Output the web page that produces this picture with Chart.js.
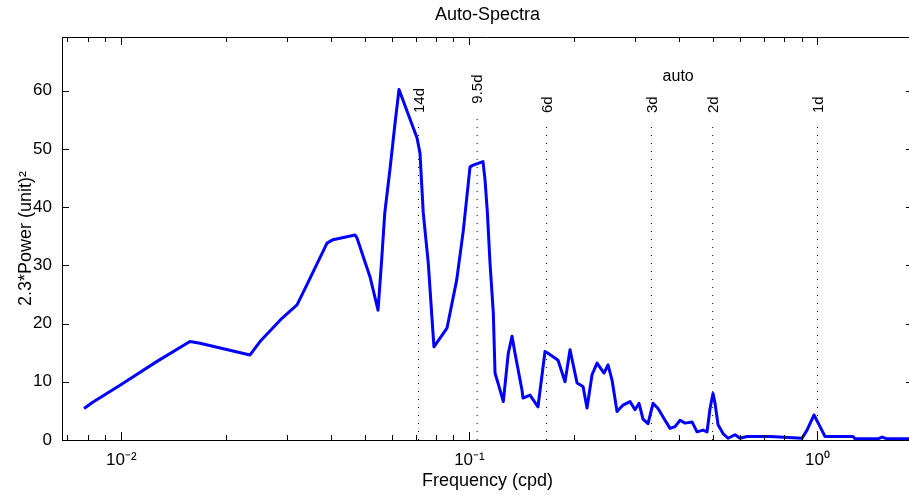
<!DOCTYPE html>
<html><head><meta charset="utf-8">
<script src="https://cdn.jsdelivr.net/npm/chart.js@4.4.1/dist/chart.umd.min.js"></script>
<style>
html,body{margin:0;padding:0;background:#fff;overflow:hidden;}
#wrap{width:909px;height:495px;overflow:hidden;position:relative;}
canvas{display:block;}
</style>
</head><body>
<div id="wrap"><canvas id="c" width="913" height="495"></canvas></div>
<script>
// ---- data ----
const freq = [0.00781,0.00823,0.00991,0.01266,0.01574,0.01682,0.02342,0.02502,0.02893,0.03196,0.03370,0.03898,0.04055,0.04691,0.04753,0.05181,0.05463,0.05597,0.05712,0.05912,0.06111,0.06276,0.07068,0.07210,0.07368,0.07616,0.07789,0.07908,0.08620,0.09194,0.09605,0.10040,0.10261,0.10941,0.11086,0.11264,0.11460,0.11713,0.11846,0.12242,0.12513,0.12932,0.13255,0.13521,0.14158,0.14256,0.14928,0.15741,0.16490,0.16824,0.17975,0.18825,0.19458,0.20381,0.21205,0.21774,0.22508,0.23266,0.24366,0.25021,0.25693,0.26555,0.27633,0.28937,0.29912,0.30715,0.31540,0.32598,0.33695,0.34834,0.36484,0.37709,0.38976,0.40294,0.41647,0.43621,0.45083,0.46914,0.48173,0.49138,0.50119,0.50785,0.51815,0.53550,0.55348,0.57970,0.59921,0.62764,0.73063,0.90313,0.93348,0.97769,1.0174,1.0515,1.2656,1.2823,1.4933,1.5334,1.5849,1.882];
const power = [5.4,6.4,9.4,13.5,16.9,16.6,14.6,16.9,20.9,23.2,26.0,33.8,34.4,35.2,34.7,28.0,22.3,31.0,39.0,46.5,54.3,60.2,51.9,49.3,39.0,30.4,21.8,16.0,19.2,27.5,36.0,46.9,47.2,47.8,44.7,39.0,30.4,21.8,11.5,8.6,6.6,14.9,17.8,14.9,8.6,7.2,7.7,5.7,15.2,14.9,13.7,10.0,15.5,9.8,9.2,5.5,11.2,13.2,11.5,12.9,10.3,4.9,6.0,6.6,5.2,6.3,3.6,2.8,6.3,5.4,3.4,2.0,2.3,3.4,2.9,3.1,1.4,1.7,1.4,5.4,8.0,6.3,2.6,1.1,0.3,0.9,0.3,0.6,0.6,0.3,1.7,4.3,2.3,0.6,0.6,0.2,0.2,0.5,0.2,0.2];

const periodFreq   = [0.07143, 0.10526, 0.16667, 0.33333, 0.5, 1.0];
const periodLabels = ['14d', '9.5d', '6d', '3d', '2d', '1d'];
const periodTop    = [54.6, 56.2, 54.6, 54.6, 54.6, 54.6];
const autoLabel = {text:'auto', x:0.398, y:62.4};

const xTicks = [0.007,0.008,0.009,0.01,0.02,0.03,0.04,0.05,0.06,0.07,0.08,0.09,0.1,0.2,0.3,0.4,0.5,0.6,0.7,0.8,0.9,1];
const xMajor = [0.01, 0.1, 1];
const xMajorLabels = ['10\u207B\u00B2', '10\u207B\u00B9', '10\u2070'];
const yTicks = [0,10,20,30,40,50,60];

const FONT = 'Liberation Sans, Arial, Helvetica, sans-serif';

const framePlugin = {
  id:'frame',
  afterDatasetsDraw(chart){
    const {ctx, scales:{x,y}} = chart;
    ctx.save();
    ctx.fillStyle = '#000';
    ctx.font = '15px ' + FONT;
    ctx.textAlign = 'left';
    ctx.textBaseline = 'middle';
    periodFreq.forEach((f,i)=>{
      const px = x.getPixelForValue(f) + 1;
      const py = y.getPixelForValue(periodTop[i]) - 9;
      ctx.save();
      ctx.translate(px, py);
      ctx.rotate(-Math.PI/2);
      ctx.fillText(periodLabels[i], 0, 0);
      ctx.restore();
    });
    ctx.font = '16px ' + FONT;
    ctx.textAlign = 'center';
    ctx.fillText(autoLabel.text, x.getPixelForValue(autoLabel.x), y.getPixelForValue(autoLabel.y));
    ctx.restore();
  },
  afterDraw(chart){
    const {ctx, chartArea:a, scales:{x,y}} = chart;
    ctx.save();
    ctx.strokeStyle = '#000';
    ctx.lineWidth = 1;
    ctx.beginPath();
    ctx.moveTo(a.left, a.top+0.5); ctx.lineTo(a.right, a.top+0.5);
    ctx.moveTo(a.right-0.5, a.top); ctx.lineTo(a.right-0.5, a.bottom);
    xTicks.forEach(v=>{
      const px = Math.round(x.getPixelForValue(v)) + 0.5;
      const len = xMajor.includes(v) ? 8 : 5;
      ctx.moveTo(px, a.bottom); ctx.lineTo(px, a.bottom - len);
      ctx.moveTo(px, a.top); ctx.lineTo(px, a.top + len);
    });
    yTicks.forEach(v=>{
      const py = Math.round(y.getPixelForValue(v)) + 0.5;
      ctx.moveTo(a.left, py); ctx.lineTo(a.left + 7, py);
      ctx.moveTo(a.right, py); ctx.lineTo(a.right - 7, py);
    });
    ctx.stroke();
    ctx.restore();
  }
};

const datasets = [{
  data: freq.map((f,i)=>({x:f, y:power[i]})),
  borderColor:'#0000ff', borderWidth:3, pointRadius:0, tension:0, fill:false, order:0,
  borderJoinStyle:'round'
}];
periodFreq.forEach((f,i)=>{
  datasets.push({
    data:[{x:f,y:0},{x:f,y:periodTop[i]}],
    borderColor:'#000', borderWidth:1, borderDash:[1,7], pointRadius:0, fill:false, order:1
  });
});

new Chart(document.getElementById('c'), {
  type:'line',
  data:{datasets},
  options:{
    responsive:false, animation:false, devicePixelRatio:1,
    layout:{padding:0},
    plugins:{
      legend:{display:false}, tooltip:{enabled:false},
      title:{display:true, fullSize:false, text:'Auto-Spectra', color:'#000',
        font:{family:FONT, size:18, weight:'normal', lineHeight:1.2},
        padding:{top:4.2, bottom:11.2}}
    },
    scales:{
      x:{
        type:'logarithmic', min:0.00675, max:1.882,
        grid:{display:false, drawTicks:false},
        border:{display:true, color:'#000', width:1},
        ticks:{autoSkip:false, maxRotation:0, minRotation:0, color:'#000', padding:10,
          font:{family:FONT, size:17},
          callback:(v)=>{const i = xMajor.indexOf(v); return i>=0 ? xMajorLabels[i] : '';}},
        afterBuildTicks:(s)=>{ s.ticks = xTicks.map(v=>({value:v})); },
        afterFit:(s)=>{ s.height = 55; },
        title:{display:true, text:'Frequency (cpd)', color:'#000',
          font:{family:FONT, size:18, lineHeight:1.2}, padding:{top:0, bottom:3.2}}
      },
      y:{
        type:'linear', min:0, max:69.2,
        grid:{display:false, drawTicks:false},
        border:{display:true, color:'#000', width:1},
        ticks:{color:'#000', padding:10, font:{family:FONT, size:17}},
        afterBuildTicks:(s)=>{ s.ticks = yTicks.map(v=>({value:v})); },
        afterFit:(s)=>{ s.width = 62; },
        title:{display:true, text:'2.3*Power (unit)\u00B2', color:'#000',
          font:{family:FONT, size:18, lineHeight:1.2}, padding:{top:15, bottom:0}}
      }
    }
  },
  plugins:[framePlugin]
});
</script>
</body></html>
